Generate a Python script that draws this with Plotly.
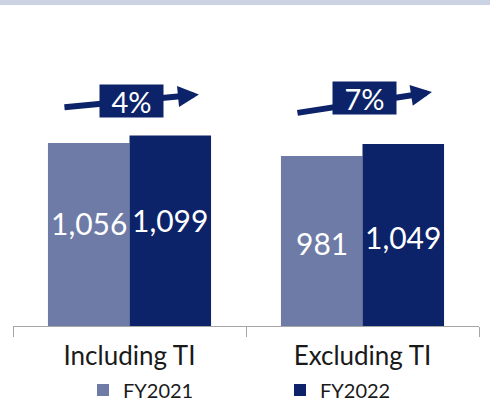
import plotly.graph_objects as go

categories = ["Including TI", "Excluding TI"]
fy2021 = [1056, 981]
fy2022 = [1099, 1049]
growth_labels = ["4%", "7%"]
series_names = ["FY2021", "FY2022"]

c21 = "#6E7BA6"
c22 = "#0C2369"
FONT = "Lato"

W, H = 490, 405
ML, MR, MT, MB = 13, 11, 0, 79
PH = H - MT - MB
PW = W - ML - MR
YMAX = 1880.0
ppu = PH / YMAX  # pixels per unit

fig = go.Figure()
fig.add_trace(go.Bar(x=categories, y=fy2021, name=series_names[0], marker_color=c21,
                     marker_line_width=0, legend="legend", hoverinfo="skip"))
fig.add_trace(go.Bar(x=categories, y=fy2022, name=series_names[1], marker_color=c22,
                     marker_line_width=0, legend="legend2", hoverinfo="skip"))

annotations = []
# value labels inside bars
label_dy = [11, -2]
bar_off = 0.175  # half of a bar width in category units (bargap 0.3 -> group 0.7)
for i, cat in enumerate(categories):
    for j, vals in enumerate([fy2021, fy2022]):
        annotations.append(dict(
            x=i + (-bar_off if j == 0 else bar_off), y=vals[i] / 2, xref="x", yref="y",
            text=f"{vals[i]:,}", showarrow=False, yshift=label_dy[i],
            font=dict(family=FONT, size=30, color="white")))

# growth arrows
for i, lab in enumerate(growth_labels):
    top = max(fy2021[i], fy2022[i])
    tip_y = top + (41 if i == 0 else 52) / ppu
    tail_dy = 13 if i == 0 else 21
    annotations.append(dict(
        x=i + 0.298, y=tip_y, xref="x", yref="y", ax=-136, ay=tail_dy,
        axref="pixel", ayref="pixel", text="", showarrow=True,
        arrowhead=2, arrowsize=0.7, arrowwidth=6, arrowcolor=c22))
    annotations.append(dict(
        x=i + 0.0086, y=top + (34 if i == 0 else 46) / ppu, xref="x", yref="y",
        text=lab, showarrow=False, width=63, height=32, bgcolor=c22,
        font=dict(family=FONT, size=29, color="white"), borderpad=0))

shapes = [dict(type="rect", xref="paper", yref="paper",
               x0=-ML / PW, x1=1 + MR / PW, y0=1 - 5 / PH, y1=1,
               fillcolor="#CBD2E1", line_width=0, layer="above")]

leg_common = dict(yref="container", xref="container", y=1 - 390 / H,
                  xanchor="left", yanchor="middle", orientation="h",
                  font=dict(family=FONT, size=20, color="#1a1a1a"),
                  bgcolor="rgba(0,0,0,0)", borderwidth=0)

fig.update_layout(
    width=W, height=H,
    margin=dict(l=ML, r=MR, t=MT, b=MB, autoexpand=False),
    paper_bgcolor="white", plot_bgcolor="white",
    barmode="group", bargap=0.3, bargroupgap=0,
    showlegend=True,
    legend=dict(x=83 / W, **leg_common),
    legend2=dict(x=280 / W, **leg_common),
    xaxis=dict(showline=True, linecolor="#A6A6A6", linewidth=1.3, ticks="outside",
               tickson="boundaries", ticklen=10, tickcolor="#A6A6A6", tickwidth=1.3,
               tickfont=dict(family=FONT, size=26, color="#1a1a1a"), showgrid=False,
               ticklabelstandoff=7, fixedrange=True, automargin=False),
    yaxis=dict(range=[0, YMAX], visible=False, showgrid=False, fixedrange=True),
    annotations=annotations, shapes=shapes,
)

fig.write_html("out.html", config={"displayModeBar": False},
               post_script="document.body.style.margin='0';document.body.style.overflow='hidden';")
